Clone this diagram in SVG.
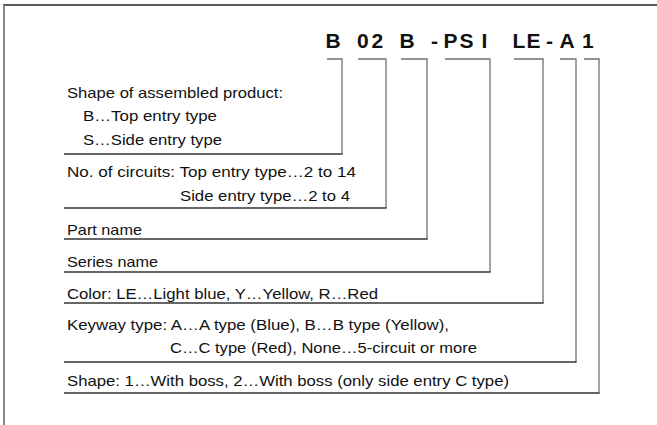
<svg xmlns="http://www.w3.org/2000/svg" width="657" height="425" viewBox="0 0 657 425">
<style>
.t{font-family:"Liberation Sans",Arial,sans-serif;font-size:14.5px;fill:#111}
.code{font-family:"Liberation Sans",Arial,sans-serif;font-size:21px;font-weight:bold;fill:#111}
.ul{stroke:#333;stroke-width:1.5;fill:none}
.br{stroke:#707070;stroke-width:1.3;fill:none}
</style>
<rect width="657" height="425" fill="#fff"/>
<g id="frame">
<line x1="3" y1="5" x2="657" y2="5" stroke="#222" stroke-width="1.5"/>
<line x1="4" y1="5" x2="4" y2="425" stroke="#888" stroke-width="2"/>
</g>
<g id="code">
<text class="code" y="48" x="325.5 343 357 371.5 387 399.5 416 431 441 443.5 459.5 481.5 489 512.5 526.5 546 559.5 577 582">B 02 B - PSI LE-A 1</text>
</g>
<g id="connectors">
<polyline class="br" points="327,59 342,59 342,154"/>
<polyline class="br" points="358,59 386,59 386,208"/>
<polyline class="br" points="401,59 427,59 427,239"/>
<polyline class="br" points="445,59 490,59 490,272"/>
<polyline class="br" points="514,59 543,59 543,303"/>
<polyline class="br" points="560,59 576,59 576,362"/>
<polyline class="br" points="584,59 599,59 599,393"/>
</g>
<g id="shape-assembled">
<text class="t" x="67" y="98" textLength="216" lengthAdjust="spacingAndGlyphs">Shape of assembled product:</text>
<text class="t" x="83" y="121" textLength="134" lengthAdjust="spacingAndGlyphs">B…Top entry type</text>
<text class="t" x="83" y="145" textLength="139" lengthAdjust="spacingAndGlyphs">S…Side entry type</text>
<line class="ul" x1="64" y1="154" x2="342.6" y2="154"/>
</g>
<g id="circuits">
<text class="t" x="67" y="177" textLength="289" lengthAdjust="spacingAndGlyphs">No. of circuits: Top entry type…2 to 14</text>
<text class="t" x="180" y="201" textLength="170" lengthAdjust="spacingAndGlyphs">Side entry type…2 to 4</text>
<line class="ul" x1="64" y1="208" x2="386.6" y2="208"/>
</g>
<g id="part-name">
<text class="t" x="67" y="235" textLength="75" lengthAdjust="spacingAndGlyphs">Part name</text>
<line class="ul" x1="64" y1="239" x2="427.6" y2="239"/>
</g>
<g id="series-name">
<text class="t" x="67" y="267" textLength="91" lengthAdjust="spacingAndGlyphs">Series name</text>
<line class="ul" x1="64" y1="272" x2="490.6" y2="272"/>
</g>
<g id="color">
<text class="t" x="67" y="299" textLength="311" lengthAdjust="spacingAndGlyphs">Color: LE…Light blue, Y…Yellow, R…Red</text>
<line class="ul" x1="64" y1="303" x2="543.6" y2="303"/>
</g>
<g id="keyway">
<text class="t" x="67" y="330" textLength="382" lengthAdjust="spacingAndGlyphs">Keyway type: A…A type (Blue), B…B type (Yellow),</text>
<text class="t" x="170" y="353" textLength="307" lengthAdjust="spacingAndGlyphs">C…C type (Red), None…5-circuit or more</text>
<line class="ul" x1="64" y1="362" x2="576.6" y2="362"/>
</g>
<g id="shape-boss">
<text class="t" x="67" y="386" textLength="442" lengthAdjust="spacingAndGlyphs">Shape: 1…With boss, 2…With boss (only side entry C type)</text>
<line class="ul" x1="64" y1="393" x2="599.6" y2="393"/>
</g>
</svg>
